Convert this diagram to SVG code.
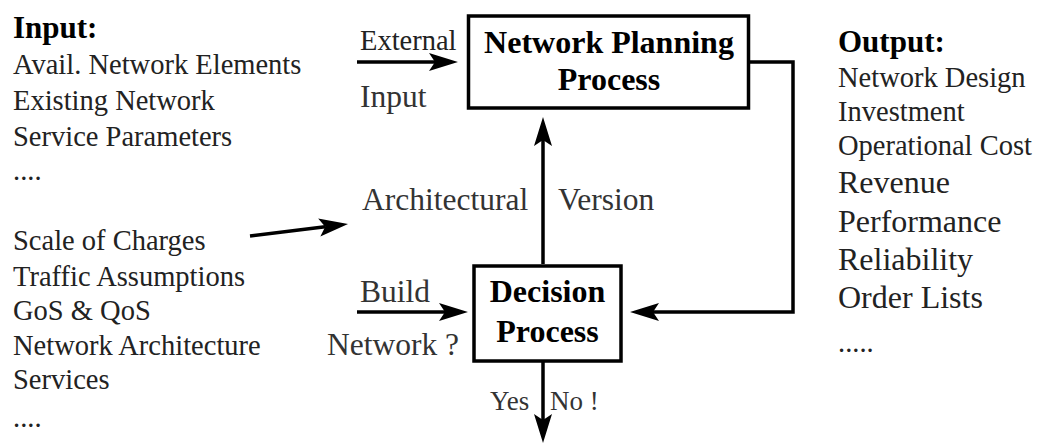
<svg xmlns="http://www.w3.org/2000/svg" width="1039" height="444" viewBox="0 0 1039 444" font-family="'Liberation Serif', 'Times New Roman', Times, 'DejaVu Serif', serif">
  <style>
    text { font-family: 'Liberation Serif', 'Times New Roman', Times, 'DejaVu Serif', serif; }
    .head { font-size: 31px; font-weight: bold; fill: #000; }
    .item { font-size: 28.5px; fill: #222; }
    .big { font-size: 32px; fill: #222; }
    .lbl { font-size: 31.5px; fill: #333; }
    .small { font-size: 27px; fill: #333; }
    .box { fill: #fff; stroke: #000; stroke-width: 3.5; }
    .title { font-size: 32px; font-weight: bold; fill: #000; text-anchor: middle; }
    .wire { fill: none; stroke: #000; stroke-width: 3.5; }
  </style>
  <defs>
    <marker id="arrow" viewBox="0 0 30 20" refX="7" refY="10" markerWidth="30" markerHeight="20" markerUnits="userSpaceOnUse" orient="auto">
      <path d="M30,10 L1,1 L7,10 L1,19 Z" fill="#000"/>
    </marker>
  </defs>

  <!-- Input column -->
  <g id="input-list">
    <text class="head" x="13" y="38">Input:</text>
    <text class="item" x="13" y="74">Avail. Network Elements</text>
    <text class="item" x="13" y="110">Existing Network</text>
    <text class="item" x="13" y="146">Service Parameters</text>
    <text class="item" x="13" y="180">....</text>
    <text class="item" x="13" y="250">Scale of Charges</text>
    <text class="item" x="13" y="286">Traffic Assumptions</text>
    <text class="item" x="13" y="320">GoS &amp; QoS</text>
    <text class="item" x="13" y="355">Network Architecture</text>
    <text class="item" x="13" y="389">Services</text>
    <text class="item" x="13" y="427">....</text>
  </g>

  <!-- Output column -->
  <g id="output-list">
    <text class="head" x="838" y="52">Output:</text>
    <text class="item" x="838" y="87">Network Design</text>
    <text class="item" x="838" y="121">Investment</text>
    <text class="item" x="838" y="155">Operational Cost</text>
    <text class="big" x="838" y="193">Revenue</text>
    <text class="big" x="838" y="232">Performance</text>
    <text class="big" x="838" y="270">Reliability</text>
    <text class="big" x="838" y="308">Order Lists</text>
    <text class="item" x="838" y="352">.....</text>
  </g>

  <!-- Process boxes -->
  <g id="planning">
    <rect class="box" x="468.5" y="16" width="280" height="92"/>
    <text class="title" x="609" y="53">Network Planning</text>
    <text class="title" x="609" y="90">Process</text>
  </g>
  <g id="decision">
    <rect class="box" x="474" y="266" width="147" height="95"/>
    <text class="title" x="547.5" y="302">Decision</text>
    <text class="title" x="547.5" y="342">Process</text>
  </g>

  <!-- Connectors -->
  <g id="connectors">
    <line class="wire" x1="357" y1="62" x2="435" y2="62" marker-end="url(#arrow)"/>
    <line class="wire" x1="543" y1="264" x2="543" y2="140" marker-end="url(#arrow)"/>
    <line class="wire" x1="250" y1="236" x2="325.2" y2="226.8" marker-end="url(#arrow)"/>
    <line class="wire" x1="357" y1="312" x2="445" y2="312" marker-end="url(#arrow)"/>
    <polyline class="wire" points="750,62 793,62 793,312 653,312" marker-end="url(#arrow)"/>
    <line class="wire" x1="543" y1="362" x2="543" y2="420" marker-end="url(#arrow)"/>
  </g>

  <!-- Connector labels -->
  <g id="labels">
    <text class="item" x="360" y="50">External</text>
    <text class="lbl" x="360" y="107">Input</text>
    <text class="lbl" x="362" y="210">Architectural</text>
    <text class="lbl" x="558" y="210">Version</text>
    <text class="lbl" x="360" y="302">Build</text>
    <text class="lbl" x="327" y="355">Network ?</text>
    <text class="small" x="490" y="410">Yes</text>
    <text class="small" x="550" y="410">No !</text>
  </g>
</svg>
